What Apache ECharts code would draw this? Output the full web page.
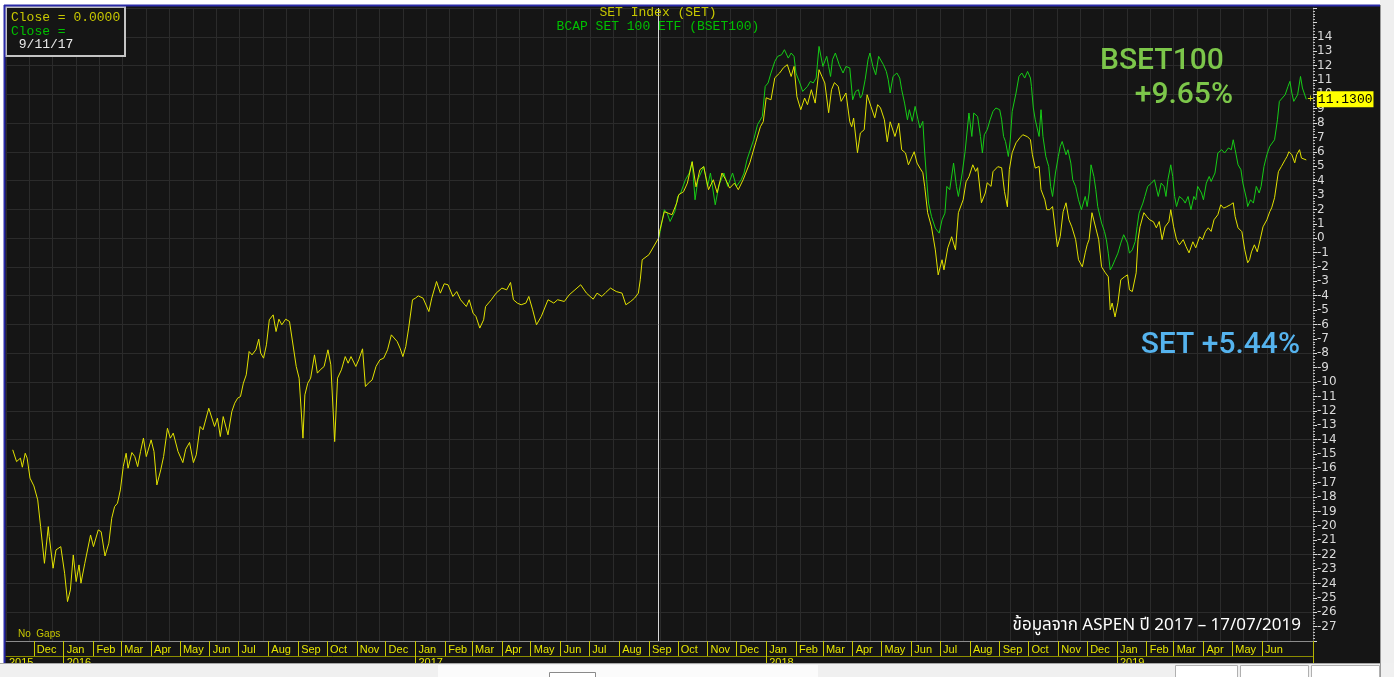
<!DOCTYPE html>
<html>
<head>
<meta charset="utf-8">
<title>SET Index vs BCAP SET 100 ETF</title>
<script src="https://cdn.jsdelivr.net/npm/echarts@6.0.0/dist/echarts.min.js"></script>
<style>
  html, body { margin: 0; padding: 0; background: #fff; }
  #chart { width: 1394px; height: 677px; }
</style>
</head>
<body>
<div id="chart"></div>
<script>
// --- data: calendar days counted from 2016-01-01, values in % change ---
const setDays = [
  -53, -49, -47, -45, -43, -40, -38, -35, -31, -27,
  -24, -20, -16, -15, -11, -8, -3, 1, 3, 4,
  7, 10, 13, 16, 18, 22, 28, 31, 36, 39,
  43, 47, 50, 53, 56, 59, 62, 65, 67, 71,
  74, 77, 80, 83, 86, 91, 94, 97, 101, 104,
  108, 111, 114, 119, 124, 127, 131, 135, 138, 142,
  145, 151, 153, 157, 160, 163, 166, 171, 175, 178,
  181, 184, 187, 190, 193, 196, 200, 203, 205, 208,
  211, 214, 218, 221, 224, 227, 231, 235, 237, 242,
  245, 249, 251, 254, 257, 261, 264, 267, 271, 275,
  278, 282, 285, 289, 293, 296, 299, 304, 307, 311,
  314, 317, 321, 325, 329, 333, 337, 341, 347, 350,
  353, 356, 359, 363, 366, 369, 374, 380, 383, 388,
  392, 396, 400, 405, 409, 413, 419, 422, 426, 429,
  433, 437, 439, 445, 450, 456, 461, 465, 468, 472,
  476, 481, 484, 488, 492, 497, 504, 510, 514, 521,
  526, 532, 538, 544, 551, 555, 560, 564, 569, 575,
  581, 585, 590, 594, 598, 600, 602, 609, 619, 620,
  625, 629, 633, 638, 640, 645, 649, 654, 658, 662,
  666, 671, 676, 680, 685, 689, 693, 698, 702, 707,
  714, 720, 725, 728, 731, 736, 740, 745, 749, 753,
  757, 760, 763, 767, 771, 774, 778, 782, 786, 789,
  792, 796, 799, 802, 806, 809, 814, 818, 820, 822,
  826, 829, 833, 836, 840, 844, 847, 850, 854, 857,
  860, 865, 869, 872, 876, 879, 885, 888, 891, 894,
  896, 899, 903, 907, 910, 914, 916, 920, 924, 928,
  931, 936, 939, 942, 946, 949, 951, 955, 959, 961,
  965, 967, 972, 976, 979, 982, 984, 987, 991, 995,
  998, 1003, 1006, 1008, 1011, 1015, 1017, 1021, 1023, 1026,
  1029, 1034, 1037, 1040, 1043, 1046, 1049, 1053, 1056, 1060,
  1063, 1065, 1067, 1070, 1074, 1077, 1080, 1084, 1087, 1089,
  1091, 1094, 1097, 1100, 1104, 1107, 1109, 1112, 1116, 1118,
  1120, 1124, 1127, 1130, 1134, 1137, 1140, 1143, 1146, 1150,
  1152, 1155, 1158, 1161, 1165, 1168, 1171, 1175, 1178, 1182,
  1185, 1188, 1191, 1194, 1197, 1201, 1204, 1207, 1210, 1214,
  1217, 1219, 1222, 1226, 1229, 1232, 1234, 1236, 1239, 1242,
  1245, 1248, 1252, 1255, 1257, 1260, 1264, 1267, 1271, 1273,
  1275, 1278, 1281, 1283, 1286, 1288, 1293
];
const setValues = [
  -14.71, -15.53, -15.64, -15.29, -15.92, -14.95, -15.29, -16.68, -17.22, -18.19,
  -20.05, -22.6, -20.05, -20.74, -22.94, -21.67, -21.44, -23.29, -23.41, -25.26,
  -24.45, -22.02, -23.87, -22.71, -23.98, -22.6, -20.63, -21.44, -20.28, -20.4,
  -22.09, -21.2, -19.47, -18.66, -18.42, -17.5, -15.88, -14.95, -15.99, -14.9,
  -15.18, -15.88, -14.83, -13.9, -15.18, -14.02, -14.83, -17.15, -16.11, -15.18,
  -13.21, -13.9, -13.55, -14.83, -15.6, -14.67, -14.2, -15.6, -15.06, -13.09,
  -13.32, -11.82, -11.93, -13.09, -12.51, -13.79, -12.4, -13.67, -12.05, -11.47,
  -11.12, -11.01, -10.08, -9.5, -7.88, -8.11, -7.76, -7.02, -7.99, -8.34,
  -7.41, -5.67, -5.33, -6.49, -5.63, -6.02, -5.63, -5.79, -5.79, -8.92,
  -9.73, -13.9, -10.89, -10.08, -9.73, -8.11, -9.38, -9.15, -8.92, -7.76,
  -8.8, -14.14, -9.73, -9.15, -8.23, -8.69, -8.23, -8.92, -8.46, -7.69,
  -10.31, -10.08, -9.85, -8.92, -8.46, -8.34, -7.76, -6.72, -7.18, -7.64,
  -8.23, -7.53, -6.25, -4.28, -4.17, -4.01, -4.17, -5.1, -4.17, -3.01,
  -3.82, -3.17, -3.24, -4.05, -3.71, -4.28, -4.75, -4.28, -5.21, -5.44,
  -6.25, -5.67, -4.75, -4.28, -3.82, -3.47, -3.59, -3.08, -4.28, -4.51,
  -4.63, -4.51, -4.05, -4.98, -6.02, -5.44, -4.28, -4.51, -4.28, -4.4,
  -3.94, -3.59, -3.24, -3.82, -4.24, -3.82, -4.05, -3.78, -3.47, -3.71,
  -3.82, -4.63, -4.4, -4.17, -3.82, -2.89, -1.5, -1.15, 0, 0.45,
  1.84, 1.74, 1.63, 2.46, 3.02, 3.23, 3.83, 5.31, 3.57, 4.76,
  4.97, 3.37, 4.06, 3.16, 4.53, 4.06, 3.48, 3.83, 3.37, 4.06,
  5.24, 6.63, 7.75, 8.1, 9.76, 9.62, 11.15, 11.48, 11.85, 12.06,
  11.24, 11.94, 9.83, 8.93, 9.74, 9.28, 10.32, 9.39, 11.71, 11.24,
  10.79, 8.72, 10.32, 10.81, 10.55, 9.51, 10.09, 8.09, 7.75, 8.35,
  5.94, 7.31, 7.54, 9.97, 9.16, 8.37, 9.28, 9.05, 8.23, 6.7,
  8.09, 7.07, 8.0, 6.15, 5.92, 5.1, 6.01, 5.22, 4.87, 4.55,
  3.57, 1.77, 0.79, -0.81, -2.55, -1.5, -2.2, -0.67, 0.1, -0.81,
  1.77, 2.67, 3.92, 4.27, 5.1, 4.64, 4.9, 2.46, 3.14, 3.85,
  3.6, 4.62, 4.97, 4.9, 3.23, 2.18, 4.76, 5.94, 6.63, 6.98,
  7.19, 7.05, 6.84, 5.8, 4.87, 4.99, 3.37, 2.67, 1.98, 1.98,
  2.2, -0.6, 0.12, 1.84, 2.46, 1.28, 0.79, -0.1, -1.5, -1.99,
  -1.02, -0.46, -0.1, 1.77, 0.7, -0.1, -1.99, -2.41, -2.68, -4.98,
  -4.51, -5.47, -4.49, -2.89, -2.68, -2.55, -3.59, -3.71, -2.41, -0.1,
  0.79, 1.77, 1.51, 1.28, 1.14, 0.72, 1.16, -0.1, 0.79, 1.14,
  1.98, 0.79, -0.1, -0.46, -0.1, -0.6, -1.02, -0.25, -0.67, 0.1,
  -0.1, 0.45, 0.72, 0.47, 1.28, 1.63, 2.32, 2.09, 2.18, 2.32,
  2.46, 1.49, 0.72, 0.45, -0.81, -1.71, -1.5, -0.95, -0.46, -0.95,
  -0.1, 0.79, 1.28, 1.84, 2.11, 2.81, 4.62, 4.97, 5.45, 5.68,
  6.01, 5.8, 5.24, 5.8, 6.15, 5.57, 5.44
];

const bsetDays = [
  619, 621, 625, 628, 631, 636, 639, 642, 647, 651,
  654, 657, 660, 666, 670, 673, 678, 682, 687, 691,
  696, 700, 705, 708, 711, 718, 722, 727, 730, 733,
  736, 740, 743, 747, 750, 754, 757, 760, 762, 766,
  769, 774, 777, 780, 783, 786, 788, 790, 794, 796,
  798, 800, 803, 807, 811, 814, 818, 821, 824, 827,
  829, 831, 834, 837, 839, 842, 845, 848, 850, 853,
  856, 858, 860, 863, 867, 870, 872, 875, 878, 880,
  883, 886, 889, 891, 894, 896, 898, 900, 903, 907,
  911, 914, 917, 919, 922, 926, 929, 931, 935, 938,
  942, 945, 947, 951, 954, 956, 958, 961, 964, 967,
  970, 974, 976, 978, 980, 983, 985, 987, 991, 994,
  997, 1000, 1003, 1006, 1007, 1009, 1011, 1015, 1017, 1019,
  1022, 1025, 1027, 1029, 1032, 1035, 1037, 1039, 1043, 1045,
  1048, 1050, 1053, 1056, 1059, 1063, 1065, 1067, 1069, 1072,
  1074, 1076, 1080, 1083, 1085, 1087, 1089, 1091, 1094, 1097,
  1100, 1103, 1105, 1107, 1109, 1112, 1115, 1117, 1119, 1123,
  1125, 1128, 1132, 1135, 1137, 1139, 1142, 1145, 1147, 1149,
  1152, 1154, 1156, 1158, 1161, 1165, 1167, 1170, 1173, 1176,
  1178, 1180, 1184, 1186, 1189, 1192, 1194, 1198, 1201, 1205,
  1208, 1212, 1215, 1217, 1219, 1222, 1225, 1227, 1231, 1232,
  1235, 1238, 1241, 1244, 1246, 1249, 1252, 1255, 1257, 1260,
  1263, 1265, 1267, 1271, 1274, 1276, 1278, 1280, 1284, 1287,
  1289, 1293
];
const bsetValues = [
  0, 0.58, 1.98, 1.74, 1.16, 1.86, 2.9, 3.14, 4.06, 4.53,
  5.33, 2.67, 4.06, 4.99, 3.6, 4.53, 2.32, 3.71, 4.53, 3.6,
  4.53, 3.6, 4.06, 4.53, 5.45, 6.84, 7.89, 8.46, 10.55, 10.79,
  11.48, 12.29, 12.64, 12.75, 13.1, 12.52, 12.87, 12.64, 11.48, 10.79,
  10.2, 10.55, 10.9, 10.79, 11.13, 13.33, 13.45, 11.94, 12.64, 11.94,
  11.24, 12.41, 12.87, 12.06, 11.48, 11.94, 11.83, 9.62, 10.2, 10.32,
  9.74, 9.97, 11.02, 12.41, 12.87, 11.94, 11.36, 12.64, 12.75, 12.06,
  11.59, 11.02, 10.09, 11.24, 11.48, 11.13, 10.32, 9.39, 8.23, 8.93,
  8.12, 9.16, 8.23, 7.66, 8.12, 5.92, 4.06, 2.44, 1.51, 0.7,
  0.35, 1.28, 1.74, 3.6, 3.37, 5.22, 3.6, 2.9, 4.53, 6.03,
  8.7, 7.07, 8.7, 8.46, 7.07, 5.92, 7.19, 7.54, 8.23, 8.81,
  9.05, 8.93, 8.23, 7.07, 6.72, 5.68, 6.84, 8.81, 10.09, 11.24,
  11.48, 11.13, 11.59, 11.13, 10.55, 9.05, 8.23, 7.07, 8.93, 7.07,
  5.68, 4.99, 3.6, 2.9, 4.53, 5.68, 6.38, 6.72, 5.8, 6.15,
  5.22, 4.06, 3.6, 2.67, 1.98, 2.9, 2.2, 3.14, 5.1, 4.29,
  3.37, 2.2, 1.05, 0.47, -0.11, -1.04, -2.2, -1.97, -1.5, -1.04,
  -0.34, 0.24, 0.12, -0.34, -1.04, -0.81, -0.23, 0.81, 1.74, 2.44,
  2.9, 3.6, 3.83, 4.06, 3.48, 2.9, 3.83, 3.6, 2.9, 4.06,
  5.1, 4.29, 2.9, 2.2, 2.9, 2.67, 2.44, 2.9, 1.98, 2.9,
  2.67, 3.6, 3.14, 2.67, 3.83, 4.29, 3.94, 4.53, 5.92, 6.15,
  5.92, 6.27, 6.15, 6.84, 6.15, 5.1, 4.76, 3.83, 2.67, 2.2,
  2.67, 2.44, 3.6, 3.14, 3.6, 4.99, 5.8, 6.38, 6.27, 6.84,
  8.23, 9.51, 9.62, 9.97, 10.55, 10.9, 10.09, 9.51, 9.97, 11.24,
  10.44, 9.65
];

// month separators on the bottom band, and the year row
const monthTicks = [
  '2015-12',
  '2016-01', '2016-02', '2016-03', '2016-04', '2016-05', '2016-06',
  '2016-07', '2016-08', '2016-09', '2016-10', '2016-11', '2016-12',
  '2017-01', '2017-02', '2017-03', '2017-04', '2017-05', '2017-06',
  '2017-07', '2017-08', '2017-09', '2017-10', '2017-11', '2017-12',
  '2018-01', '2018-02', '2018-03', '2018-04', '2018-05', '2018-06',
  '2018-07', '2018-08', '2018-09', '2018-10', '2018-11', '2018-12',
  '2019-01', '2019-02', '2019-03', '2019-04', '2019-05', '2019-06'
];
const yearTicks = ['2016-01', '2017-01', '2018-01', '2019-01'];
const monthNames = ['Jan', 'Feb', 'Mar', 'Apr', 'May', 'Jun', 'Jul', 'Aug', 'Sep', 'Oct', 'Nov', 'Dec'];

const crossDate = '2017-09-11';
const lastPrice = '11.1300';

// --- helpers ---
const DAY = 86400000;
const BASE = new Date(2016, 0, 1).getTime();
const toTime = d => BASE + d * DAY;
function monthTime(s) {
  const p = s.split('-').map(Number);
  return new Date(p[0], p[1] - 1, p[2] || 1).getTime();
}
const xMin = new Date(2015, 10, 2).getTime();
const xMax = new Date(2019, 6, 24).getTime();

const setData = setDays.map((d, i) => [toTime(d), setValues[i]]);
const bsetData = bsetDays.map((d, i) => [toTime(d), bsetValues[i]]);
const monthVals = monthTicks.map(monthTime);
const yearVals = yearTicks.map(monthTime);

const YELLOW = '#e2e200';
const GREEN = '#16cc16';
const GRIDLINE = '#2b2b2b';

const chart = echarts.init(document.getElementById('chart'));

const option = {
  animation: false,
  backgroundColor: '#151515',
  grid: { left: 6, top: 8, width: 1307, height: 633, outerBoundsMode: 'none' },
  xAxis: [
    {
      // months band (timestamps on a value axis)
      type: 'value',
      min: xMin,
      max: xMax,
      scale: true,
      position: 'bottom',
      axisLine: { show: true, onZero: false, lineStyle: { color: '#8c8c8c', width: 1 } },
      axisTick: { show: true, customValues: monthVals, length: 15, lineStyle: { color: '#c8c800' } },
      axisLabel: {
        customValues: monthVals,
        formatter: v => monthNames[new Date(v).getMonth()],
        color: '#e6e600',
        fontSize: 11,
        fontFamily: 'Liberation Sans, Arial, sans-serif',
        align: 'left',
        padding: [0, 0, 0, 3],
        margin: 3
      },
      splitLine: { show: false }
    },
    {
      // years row
      type: 'value',
      min: xMin,
      max: xMax,
      scale: true,
      position: 'bottom',
      offset: 15,
      axisLine: { show: true, onZero: false, lineStyle: { color: '#8c8c00' } },
      axisTick: { show: true, customValues: yearVals, length: 8, lineStyle: { color: '#c8c800' } },
      axisLabel: {
        customValues: [xMin].concat(yearVals),
        formatter: v => String(new Date(v).getFullYear()),
        color: '#e6e600',
        fontSize: 11,
        fontFamily: 'Liberation Sans, Arial, sans-serif',
        align: 'left',
        padding: [0, 0, 0, 3],
        margin: 1
      },
      splitLine: { show: false }
    },
    {
      // vertical grid lines only
      type: 'value',
      min: 0,
      max: 1307,
      interval: 23.35,
      position: 'top',
      axisLine: { show: false, onZero: false },
      axisTick: { show: false },
      axisLabel: { show: false },
      splitLine: { show: true, lineStyle: { color: GRIDLINE, width: 1 } }
    }
  ],
  yAxis: [
    {
      type: 'value',
      position: 'right',
      min: -28,
      max: 16,
      interval: 1,
      axisLine: { show: true, onZero: false, lineStyle: { color: '#5a5a5a' } },
      axisTick: { show: true, length: 4, lineStyle: { color: '#d8d8d8' } },
      minorTick: { show: true, splitNumber: 5, length: 2, lineStyle: { color: '#c0c0c0' } },
      axisLabel: {
        color: '#dadada',
        fontSize: 12,
        fontFamily: 'DejaVu Sans, Verdana, sans-serif',
        margin: 4,
        formatter: v => (v >= -27 && v <= 14 ? String(v) : '')
      },
      splitLine: { show: false }
    },
    {
      // horizontal grid lines every 2 units
      type: 'value',
      position: 'left',
      min: -28,
      max: 16,
      interval: 2,
      axisLine: { show: false, onZero: false },
      axisTick: { show: false },
      axisLabel: { show: false },
      splitLine: { show: true, lineStyle: { color: GRIDLINE, width: 1 } }
    }
  ],
  series: [
    {
      name: 'BSET100',
      type: 'line',
      xAxisIndex: 0,
      yAxisIndex: 0,
      data: bsetData,
      showSymbol: false,
      symbol: 'none',
      lineStyle: { color: GREEN, width: 1 },
      itemStyle: { color: GREEN },
      z: 3,
      endLabel: {
        show: true,
        distance: 1,
        formatter: '{p|+}{b|' + lastPrice + '}',
        rich: {
          p: { color: '#d8d800', fontSize: 11, fontFamily: 'Liberation Mono, monospace', padding: [0, 3, 0, 0] },
          b: {
            color: '#000',
            backgroundColor: '#ffff00',
            fontSize: 13,
            fontFamily: 'Liberation Mono, monospace',
            padding: [2, 1, 1, 1]
          }
        }
      }
    },
    {
      name: 'SET',
      type: 'line',
      xAxisIndex: 0,
      yAxisIndex: 0,
      data: setData,
      showSymbol: false,
      symbol: 'none',
      lineStyle: { color: YELLOW, width: 1 },
      itemStyle: { color: YELLOW },
      z: 4,
      markLine: {
        silent: true,
        symbol: ['none', 'none'],
        label: { show: false },
        lineStyle: { color: '#d8d8d8', width: 1, type: 'solid' },
        data: [{ xAxis: monthTime(crossDate) }]
      }
    }
  ],
  graphic: [
    // window frame
    { type: 'rect', z: 100, shape: { x: 0, y: 0, width: 1394, height: 5 }, style: { fill: '#ffffff' } },
    { type: 'rect', z: 100, shape: { x: 0, y: 0, width: 4, height: 677 }, style: { fill: '#ffffff' } },
    { type: 'rect', z: 100, shape: { x: 1380, y: 0, width: 14, height: 677 }, style: { fill: '#efefef' } },
    { type: 'line', z: 101, shape: { x1: 1380.5, y1: 5, x2: 1380.5, y2: 677 }, style: { stroke: '#9a9a9a', lineWidth: 1 } },
    { type: 'rect', z: 100, shape: { x: 0, y: 663, width: 1394, height: 14 }, style: { fill: '#f0f0f0' } },
    { type: 'line', z: 101, shape: { x1: 0, y1: 663.5, x2: 1380, y2: 663.5 }, style: { stroke: '#a8a8a8', lineWidth: 1 } },
    { type: 'rect', z: 101, shape: { x: 438, y: 665, width: 380, height: 12 }, style: { fill: '#fbfbfb' } },
    { type: 'rect', z: 102, shape: { x: 549.5, y: 672.5, width: 46, height: 10 }, style: { fill: '#ffffff', stroke: '#8a8a8a', lineWidth: 1 } },
    { type: 'rect', z: 102, shape: { x: 1175.5, y: 665.5, width: 62, height: 12 }, style: { fill: '#ffffff', stroke: '#b0b0b0', lineWidth: 1 } },
    { type: 'rect', z: 102, shape: { x: 1240.5, y: 665.5, width: 68, height: 12 }, style: { fill: '#ffffff', stroke: '#b0b0b0', lineWidth: 1 } },
    { type: 'rect', z: 102, shape: { x: 1311.5, y: 665.5, width: 68, height: 12 }, style: { fill: '#ffffff', stroke: '#b0b0b0', lineWidth: 1 } },
    { type: 'line', z: 101, shape: { x1: 4, y1: 5.5, x2: 1380, y2: 5.5 }, style: { stroke: '#2a2aa8', lineWidth: 2 } },
    { type: 'line', z: 101, shape: { x1: 4.5, y1: 5, x2: 4.5, y2: 663 }, style: { stroke: '#2a2aa8', lineWidth: 2 } },
    { type: 'line', z: 101, shape: { x1: 1313.5, y1: 641, x2: 1313.5, y2: 663 }, style: { stroke: '#b4b400', lineWidth: 1 } },

    // crosshair readout box
    { type: 'rect', z: 100, shape: { x: 6, y: 7, width: 119, height: 49 }, style: { fill: '#151515', stroke: '#c4c4c4', lineWidth: 2 } },
    { type: 'text', z: 101, style: { text: 'Close = 0.0000', x: 11, y: 18, fill: '#c8c800', font: '13px "Liberation Mono", monospace', align: 'left', verticalAlign: 'middle' } },
    { type: 'text', z: 101, style: { text: 'Close =', x: 11, y: 32, fill: '#00c000', font: '13px "Liberation Mono", monospace', align: 'left', verticalAlign: 'middle' } },
    { type: 'text', z: 101, style: { text: ' 9/11/17', x: 11, y: 45, fill: '#e8e8e8', font: '13px "Liberation Mono", monospace', align: 'left', verticalAlign: 'middle' } },

    // titles
    { type: 'text', z: 101, style: { text: 'SET Index (SET)', x: 658, y: 13, fill: '#c8c800', font: '13px "Liberation Mono", monospace', align: 'center', verticalAlign: 'middle' } },
    { type: 'text', z: 101, style: { text: 'BCAP SET 100 ETF (BSET100)', x: 658, y: 27, fill: '#00c000', font: '13px "Liberation Mono", monospace', align: 'center', verticalAlign: 'middle' } },

    // annotations
    { type: 'text', z: 101, style: { text: 'BSET100', x: 1100, y: 61, fill: '#7cc64a', font: '500 30px Roboto, "Noto Sans", sans-serif', align: 'left', verticalAlign: 'middle' } },
    { type: 'text', z: 101, style: { text: '+9.65%', x: 1233, y: 95, fill: '#7cc64a', font: '500 30px Roboto, "Noto Sans", sans-serif', align: 'right', verticalAlign: 'middle' } },
    { type: 'text', z: 101, style: { text: 'SET +5.44%', x: 1300, y: 345, fill: '#55b3ee', font: '500 30px Roboto, "Noto Sans", sans-serif', align: 'right', verticalAlign: 'middle' } },
    { type: 'text', z: 101, style: { text: 'ข้อมูลจาก ASPEN ปี 2017 – 17/07/2019', x: 1301, y: 627, fill: '#ffffff', font: '17px "Noto Sans Thai", "Noto Sans", Roboto, sans-serif', align: 'right', verticalAlign: 'middle' } },
    { type: 'text', z: 101, style: { text: 'No  Gaps', x: 18, y: 634, fill: '#c8c800', font: '10px "Liberation Sans", Arial, sans-serif', align: 'left', verticalAlign: 'middle' } }
  ]
};

chart.setOption(option);
</script>
</body>
</html>
